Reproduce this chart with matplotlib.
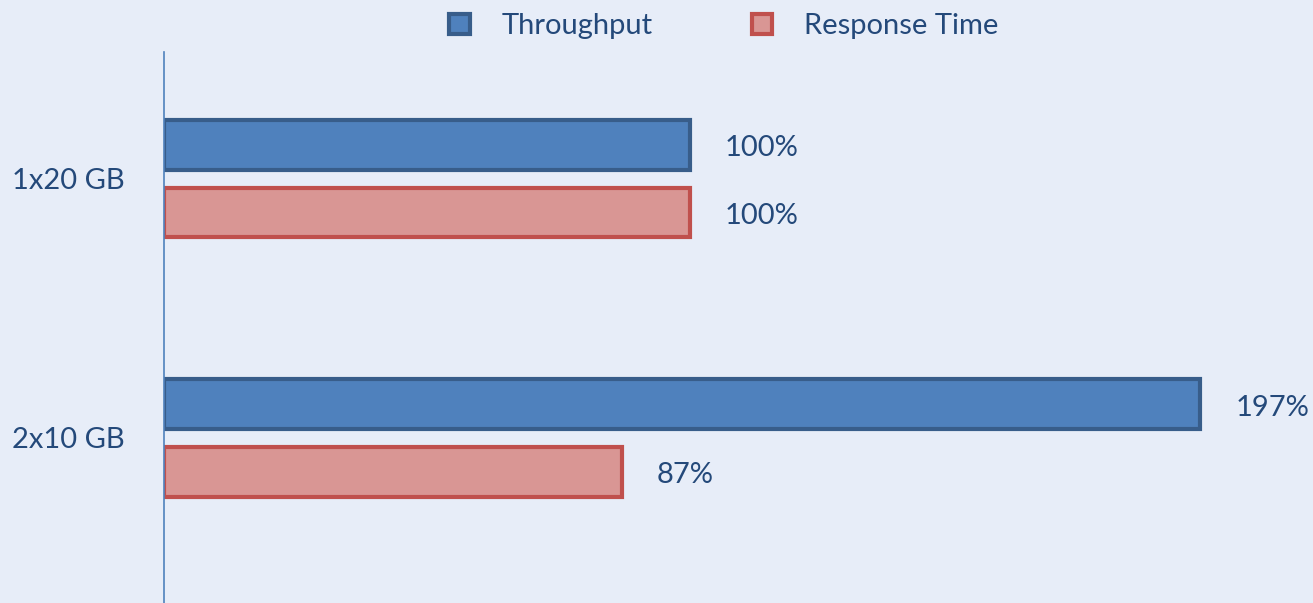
import matplotlib.pyplot as plt
import numpy as np

categories = ["1x20 GB", "2x10 GB"]
throughput = [100, 197]
response_time = [100, 87]
series_names = ["Throughput", "Response Time"]

plt.rcParams['font.family'] = ['Lato', 'DejaVu Sans']
text_color = '#24497a'
bg = '#e7edf8'

fig = plt.figure(figsize=(13.13, 6.03), dpi=100, facecolor=bg)
ax = fig.add_axes([164 / 1313, 0, 1 - 164 / 1313, 1 - 52 / 603])
ax.set_facecolor(bg)

y = np.arange(len(categories))
h = 0.19
off = 0.131
b1 = ax.barh(y - off, throughput, height=h, color='#4f81bd', edgecolor='#385d8a',
             linewidth=3, label=series_names[0])
b2 = ax.barh(y + off, response_time, height=h, color='#d99694', edgecolor='#c0504d',
             linewidth=3, label=series_names[1])

# value labels at bar ends
for bars, vals in [(b1, throughput), (b2, response_time)]:
    for bar, v in zip(bars, vals):
        ax.annotate(f"{v}%", (bar.get_width(), bar.get_y() + bar.get_height() / 2),
                    xytext=(25, -2.5), textcoords='offset points', va='center', ha='left',
                    fontsize=21, color=text_color)

ax.set_xlim(0, 218.4)
ax.set_ylim(1.637, -0.49)
ax.set_yticks(y)
ax.set_yticklabels(categories, fontsize=21, color=text_color)
ax.tick_params(axis='y', length=0, pad=28)
ax.set_xticks([])
for s in ['top', 'right', 'bottom']:
    ax.spines[s].set_visible(False)
ax.spines['left'].set_color('#4f81bd')
ax.spines['left'].set_linewidth(1.2)

leg = fig.legend(handles=[b1, b2], loc='center', bbox_to_anchor=(724 / 1313, 1 - 26 / 603),
                 ncol=2, frameon=False, fontsize=21, handlelength=0.7, handleheight=0.7,
                 columnspacing=3.4, handletextpad=1.1)
for t in leg.get_texts():
    t.set_color(text_color)

fig.savefig('out.png', dpi=100, facecolor=bg)
